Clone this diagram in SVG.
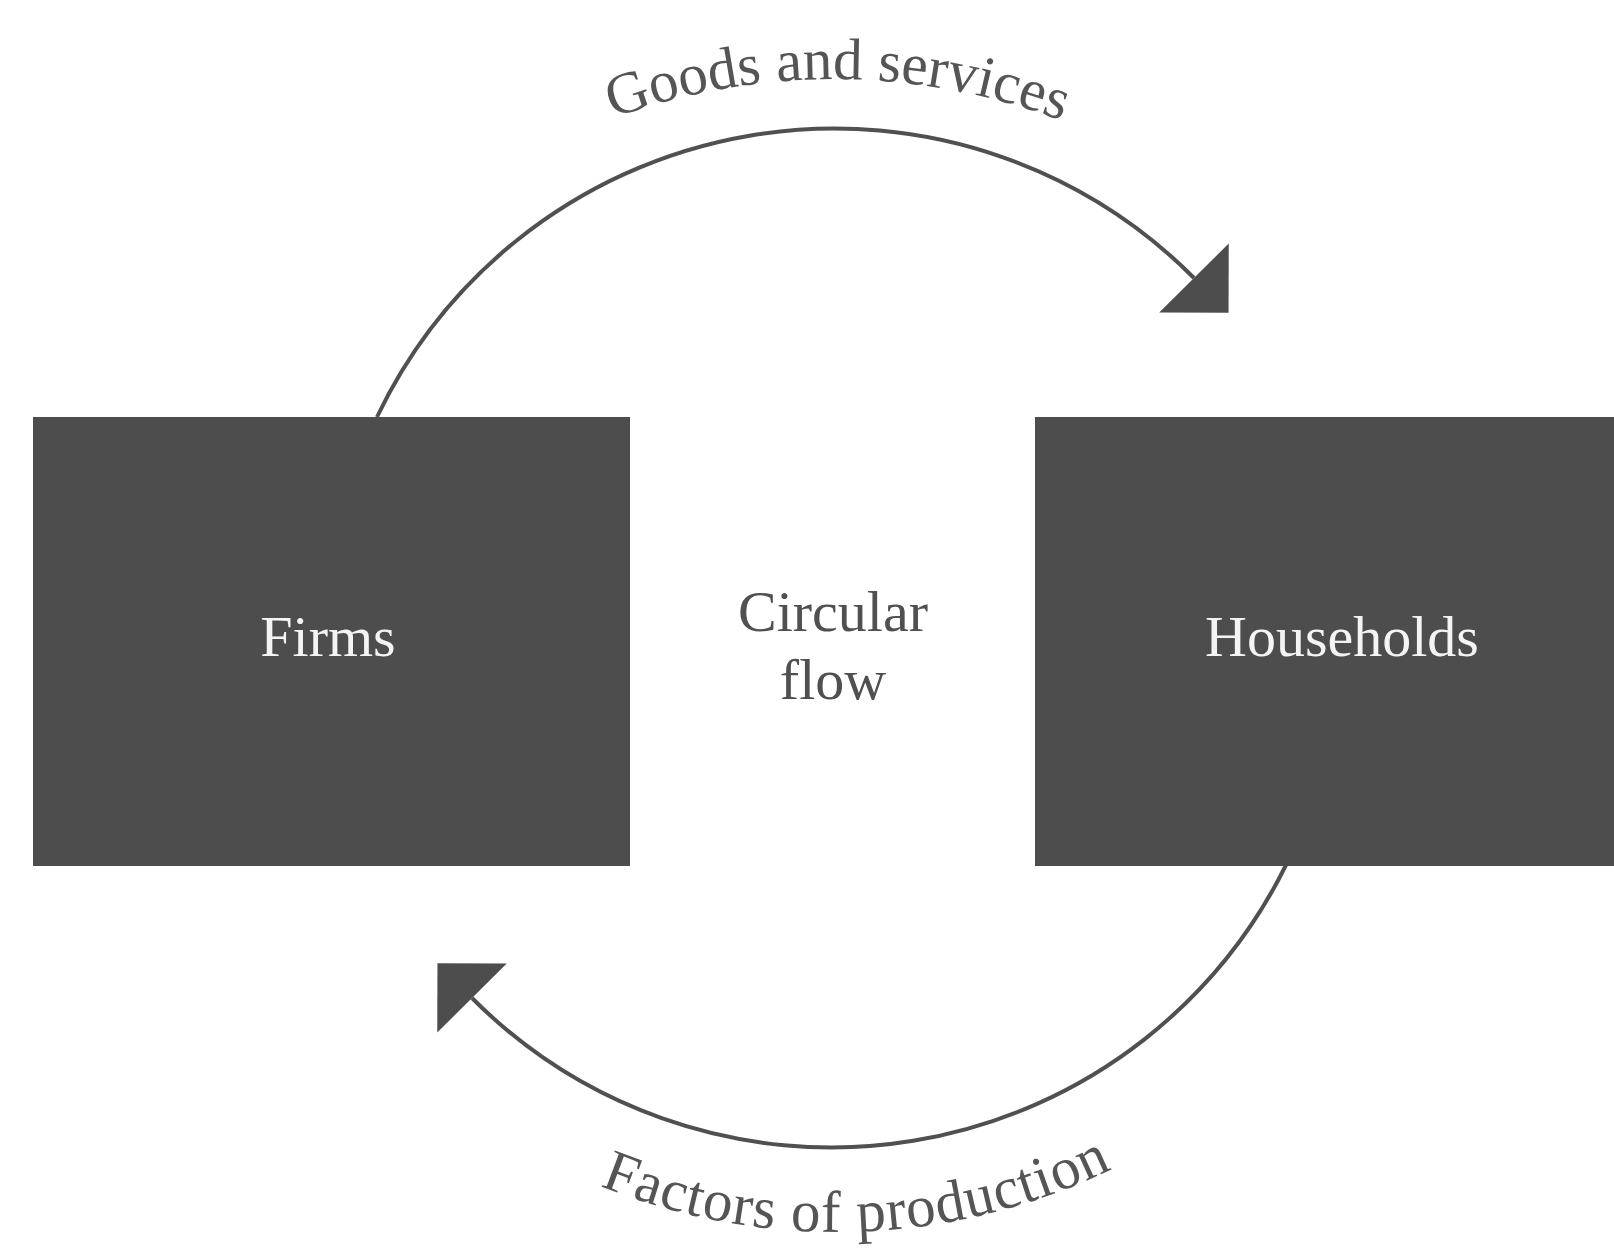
<svg xmlns="http://www.w3.org/2000/svg" width="1614" height="1257" viewBox="0 0 1614 1257">
  <style>
    .box { fill: #4d4d4d; }
    .boxlabel { fill: #f4f4f4; font-family: "Liberation Serif", "DejaVu Serif", serif; font-size: 58px; text-anchor: middle; }
    .center { fill: #505050; font-family: "Liberation Serif", "DejaVu Serif", serif; font-size: 58px; text-anchor: middle; }
    .flow { fill: none; stroke: #505050; stroke-width: 4; }
    .arclabel { fill: #555555; font-family: "Liberation Serif", "DejaVu Serif", serif; font-size: 59px; }
  </style>
  <defs>
    <marker id="arrow" viewBox="-2 -52 56 104" markerWidth="56" markerHeight="104" refX="0" refY="0" orient="auto" markerUnits="userSpaceOnUse">
      <path d="M0,-49 L49,0 L0,49 Z" fill="#4d4d4d"/>
    </marker>
    <path id="topTextPath" d="M 188 725 A 646 646 0 0 1 1480 725"/>
    <path id="bottomTextPath" d="M 205 600 A 632 632 0 0 0 1469 600"/>
  </defs>
  <rect width="1614" height="1257" fill="#ffffff"/>

  <g id="connectors">
    <path class="flow" d="M 377 417 A 507 507 0 0 1 1194 278" marker-end="url(#arrow)"/>
    <path class="flow" d="M 1286 865 A 507 507 0 0 1 472 998" marker-end="url(#arrow)"/>
    <text class="arclabel" font-size="58" letter-spacing="0"><textPath href="#topTextPath" startOffset="1018" text-anchor="middle">Goods and services</textPath></text>
    <text class="arclabel" letter-spacing="1"><textPath href="#bottomTextPath" startOffset="1014" text-anchor="middle">Factors of production</textPath></text>
  </g>

  <g id="firms">
    <rect class="box" x="33" y="417" width="597" height="449"/>
    <text class="boxlabel" x="328" y="656">Firms</text>
  </g>

  <g id="households">
    <rect class="box" x="1035" y="417" width="579" height="449"/>
    <text class="boxlabel" x="1342" y="656">Households</text>
  </g>

  <g id="circular-flow">
    <text class="center" x="833" y="631">Circular</text>
    <text class="center" x="833" y="699">flow</text>
  </g>
</svg>
